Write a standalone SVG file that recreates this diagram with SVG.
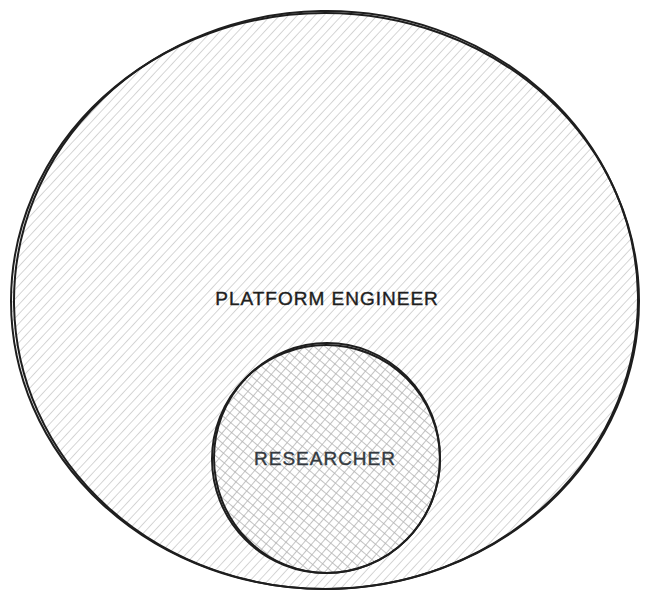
<svg xmlns="http://www.w3.org/2000/svg" width="653" height="599" viewBox="0 0 653 599">
<style>
.outline{fill:none;stroke:#1e1e1e;stroke-width:2;stroke-linecap:round}
.lbl{font-family:"Liberation Sans",Arial,sans-serif;font-size:19px;text-anchor:middle;letter-spacing:1px;stroke-width:0.4}
</style>
<defs>
<pattern id="hatch" patternUnits="userSpaceOnUse" width="6.5" height="6.5" patternTransform="rotate(43)">
<line x1="0" y1="0" x2="0" y2="6.5" stroke="#d2d2d2" stroke-width="1.8"/>
</pattern>
<pattern id="cross" patternUnits="userSpaceOnUse" width="7" height="7" patternTransform="rotate(40)">
<line x1="0" y1="0" x2="0" y2="7" stroke="#b4b4b4" stroke-width="1.6"/>
<line x1="0" y1="0" x2="7" y2="0" stroke="#b4b4b4" stroke-width="1.6"/>
</pattern>
</defs>
<g id="platform-engineer">
<ellipse cx="325" cy="301" rx="314" ry="288" fill="url(#hatch)"/>
<ellipse class="outline" cx="325" cy="301" rx="314" ry="288"/>
<ellipse class="outline" cx="326" cy="300" rx="312" ry="289" transform="rotate(-1 326 300)" stroke-width="1.3"/>
<text class="lbl" x="327" y="305" fill="#1e1e1e" stroke="#1e1e1e">PLATFORM ENGINEER</text>
</g>
<g id="researcher">
<circle cx="326" cy="459" r="114" fill="#fff"/>
<circle cx="326" cy="459" r="114" fill="url(#cross)"/>
<circle class="outline" cx="326" cy="459" r="114"/>
<ellipse class="outline" cx="327" cy="458" rx="113" ry="115" stroke-width="1.3"/>
<text class="lbl" x="325" y="465" fill="#343a40" stroke="#343a40">RESEARCHER</text>
</g>
<g id="connectors"/>
</svg>
